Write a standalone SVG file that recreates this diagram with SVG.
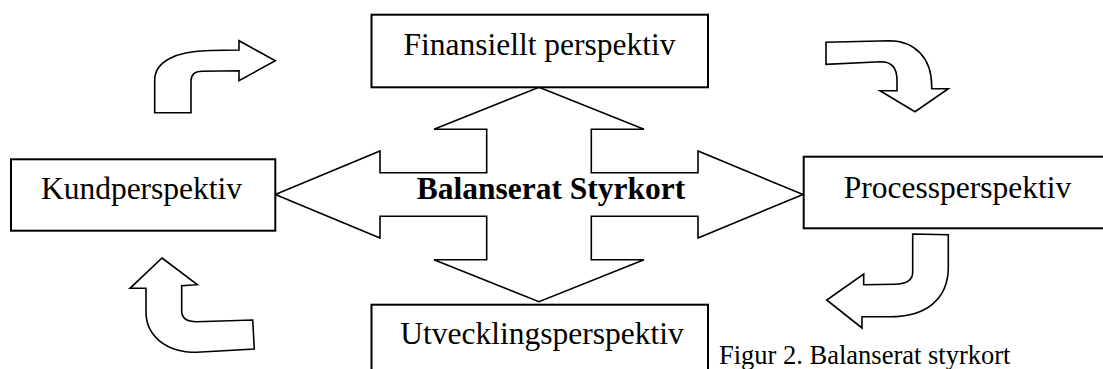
<svg xmlns="http://www.w3.org/2000/svg" width="1103" height="369" viewBox="0 0 1103 369">
<style>
.box{fill:#fff;stroke:#000;stroke-width:2}
.lbl{font-family:"Liberation Serif","Times New Roman",serif;font-size:31.5px;fill:#000}
.bold{font-weight:bold}
.cap{font-family:"Liberation Serif","Times New Roman",serif;font-size:26.5px;fill:#000}
.arr{fill:#fff;stroke:#000;stroke-width:1.6;stroke-linejoin:miter}
</style>
<rect width="1103" height="369" fill="#fff"/>
<g id="connectors">
<polygon id="cross" class="arr" points="539,87.3 644,129.3 591.3,129.3 591.3,172.7 698,172.7 698,151 803,194.5 698,238 698,216.3 591.3,216.3 591.3,259.7 644,259.7 539,301.7 434,259.7 486.7,259.7 486.7,216.3 380,216.3 380,238 275.3,194.5 380,151 380,172.7 486.7,172.7 486.7,129.3 434,129.3"/>
<path id="arrow-tl" class="arr" d="M154.7,112.7 L191,112.7 L191,81 Q191,71.3 202,71.2 L239,70.7 L239,80.7 L275.3,60.7 L239,40.7 L239,50 L210,50.5 C175,51 154.7,62 154.7,80 Z"/>
<path id="arrow-tr" class="arr" d="M826,42.3 L889.3,40.7 C915,41 931.7,58 931.7,86 L931.7,88.7 L948.3,88.7 L915,111.7 L880,90.7 L897,90.7 L897,80 C897,68 892,61.7 881,61.7 L826,64.3 Z"/>
<path id="arrow-br" class="arr" d="M912.7,234 L948.3,234.7 L948.3,267.3 C948.3,300 925,316.7 890,316.7 L862,316.7 L862,328 L826.7,300 L863.7,274 L863.7,284.7 L895,284.3 C906,284 912.7,280 912.7,272 Z"/>
<path id="arrow-bl" class="arr" d="M162,258 L197.3,284.7 L181.7,285.7 L181.7,311 C181.7,318 187,321.7 196.7,321.7 L252.7,320 L254.3,349 L196.7,352.3 C165,352.3 146,335 146,312 L146,288.3 L130,288.3 Z"/>
</g>
<g id="node-finansiellt">
<rect class="box" x="371.5" y="14.7" width="336.5" height="72.6"/>
<text class="lbl" x="539.5" y="55" text-anchor="middle">Finansiellt perspektiv</text>
</g>
<g id="node-kund">
<rect class="box" x="11" y="159.3" width="264.3" height="71.4"/>
<text class="lbl" x="141.5" y="198.5" text-anchor="middle">Kundperspektiv</text>
</g>
<g id="node-process">
<rect class="box" x="803.7" y="156.7" width="310" height="71.6"/>
<text class="lbl" x="957.5" y="197.5" text-anchor="middle">Processperspektiv</text>
</g>
<g id="node-utveckling">
<rect class="box" x="371.5" y="304.7" width="336.5" height="80"/>
<text class="lbl" x="542" y="343.5" text-anchor="middle">Utvecklingsperspektiv</text>
</g>
<g id="node-center">
<text class="lbl bold" x="551" y="199" text-anchor="middle">Balanserat Styrkort</text>
</g>
<g id="caption">
<text class="cap" x="719" y="364">Figur 2. Balanserat styrkort</text>
</g>
</svg>
